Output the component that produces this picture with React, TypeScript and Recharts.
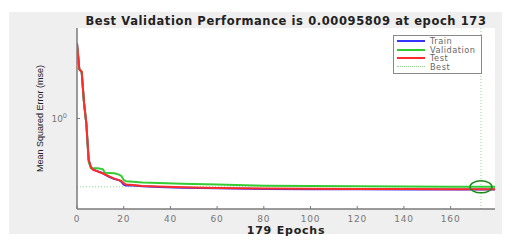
import React from "react";
import {
  LineChart,
  Line,
  XAxis,
  YAxis,
  CartesianGrid,
  ReferenceLine,
  ReferenceDot,
  Label,
} from "recharts";

// values (log scale, so most are rough)
const epochs = [0, 1, 2, 3, 4, 5, 6, 7, 9, 10, 11, 12, 14, 16, 18, 19, 20, 21, 24, 28, 35, 45, 60, 80, 100, 120, 140, 160, 173, 179];
const trainMse = [2100, 150, 117, 5, 0.6, 0.015, 0.0068, 0.0055, 0.0046, 0.0042, 0.0038, 0.0033, 0.0026, 0.0021, 0.0019, 0.0016, 0.0012, 0.0011, 0.00108, 0.00102, 0.00095, 0.00088, 0.00082, 0.00076, 0.00075, 0.00074, 0.00073, 0.00073, 0.00072, 0.00072];
const validationMse = [2100, 150, 117, 5, 0.6, 0.012, 0.0064, 0.0064, 0.0063, 0.006, 0.0058, 0.004, 0.0039, 0.0038, 0.0033, 0.0029, 0.0019, 0.0017, 0.0016, 0.0015, 0.0014, 0.0013, 0.0012, 0.00107, 0.00104, 0.00101, 0.00099, 0.00097, 0.00096, 0.00097];
const testMse = [2100, 150, 117, 5, 0.6, 0.015, 0.0068, 0.0054, 0.0045, 0.0041, 0.0038, 0.0034, 0.0027, 0.0022, 0.0019, 0.0017, 0.0014, 0.0012, 0.00115, 0.00105, 0.00098, 0.00092, 0.00085, 0.0008, 0.00079, 0.00077, 0.00076, 0.00075, 0.00074, 0.00074];

const xTicks = [0, 20, 40, 60, 80, 100, 120, 140, 160];
const yTicks = [1];
const bestEpoch = 173;
const bestValue = 0.00095809;
const totalEpochs = 179;

const legendItems = [
  { name: "Train", color: "#3535ff", dotted: false },
  { name: "Validation", color: "#33cc33", dotted: false },
  { name: "Test", color: "#ff2b2b", dotted: false },
  { name: "Best", color: "#8fd88f", dotted: true },
];

const data = epochs.map((epoch, i) => ({
  epoch,
  train: trainMse[i],
  validation: validationMse[i],
  test: testMse[i],
}));

const tickFont = "'DejaVu Sans', Arial, sans-serif";
const axisColor = "#7a7a7a";

function XTick({ x, y, payload }: any) {
  // y is axis + 6 (tickSize) + 2 (margin)
  const axisY = y - 8;
  return (
    <g>
      <line x1={x} x2={x} y1={axisY} y2={axisY - 3} stroke={axisColor} />
      <text x={x} y={y} dy={5} textAnchor="middle" fontSize={9} fill="#777" fontFamily={tickFont} letterSpacing={0.8}>
        {payload.value}
      </text>
    </g>
  );
}

function YTick({ x, y, payload }: any) {
  const axisX = x + 10;
  const exp = Math.round(Math.log10(payload.value));
  return (
    <g>
      <line x1={axisX} x2={axisX + 3} y1={y} y2={y} stroke={axisColor} />
      <text x={x} y={y} dy={3} textAnchor="end" fontSize={9} fill="#777" fontFamily={tickFont}>
        10<tspan dy={-4} fontSize={6.5}>{exp}</tspan>
      </text>
    </g>
  );
}

function BestRing({ cx, cy }: any) {
  return <ellipse cx={cx} cy={cy} rx={11} ry={6} fill="none" stroke="#1a8a1a" strokeWidth={1.5} />;
}

function LegendBox() {
  return (
    <div
      style={{
        position: "absolute",
        left: 393,
        top: 35,
        width: 81,
        height: 35,
        border: "1px solid #888",
        background: "#fff",
        padding: "1px 3px",
        fontFamily: tickFont,
        fontSize: 8.2,
        letterSpacing: 0.5,
        color: "#666",
      }}
    >
      {legendItems.map((it) => (
        <div key={it.name} style={{ display: "flex", alignItems: "center", height: 8.5, lineHeight: "8.5px" }}>
          <span
            style={{
              display: "inline-block",
              width: 28,
              marginRight: 5,
              borderTop: it.dotted ? `1px dotted ${it.color}` : `2px solid ${it.color}`,
            }}
          />
          {it.name}
        </div>
      ))}
    </div>
  );
}

export default function App() {
  return (
    <div style={{ position: "absolute", left: 0, top: 0, width: 512, height: 247, background: "#fff" }}>
      <div style={{ position: "absolute", left: 9, top: 12, width: 493, height: 222, background: "#efefef" }} />
      <div
        style={{
          position: "absolute",
          left: 77,
          width: 418,
          top: 14,
          textAlign: "center",
          fontFamily: tickFont,
          fontWeight: "bold",
          fontSize: 11.5,
          letterSpacing: 0.6,
          color: "#222",
          whiteSpace: "nowrap",
        }}
      >
        {`Best Validation Performance is ${bestValue} at epoch ${bestEpoch}`}
      </div>
      <div style={{ position: "absolute", left: 0, top: 0 }}>
        <LineChart width={512} height={247} data={data} margin={{ top: 28, right: 17, left: 27, bottom: 8 }}>
          <CartesianGrid horizontal={false} vertical={false} fill="#fff" stroke="none" />
          <XAxis
            dataKey="epoch"
            type="number"
            domain={[0, totalEpochs]}
            ticks={xTicks}
            height={30}
            axisLine={{ stroke: axisColor, strokeWidth: 1.5 }}
            tickLine={false}
            tick={<XTick />}
            allowDataOverflow
          >
            <Label
              value={`${totalEpochs} Epochs`}
              position="insideBottom"
              offset={5}
              style={{ fontFamily: tickFont, fontWeight: "bold", fontSize: 11, fill: "#222", letterSpacing: 0.8 }}
            />
          </XAxis>
          <YAxis
            scale="log"
            domain={[1e-4, 1e4]}
            ticks={yTicks}
            width={50}
            tickMargin={4}
            axisLine={{ stroke: axisColor, strokeWidth: 1.5 }}
            tickLine={false}
            tick={<YTick />}
            allowDataOverflow
          >
            <Label
              value="Mean Squared Error  (mse)"
              angle={-90}
              position="insideLeft"
              offset={13}
              style={{ textAnchor: "middle", fontFamily: "Arial, 'Liberation Sans', sans-serif", fontSize: 9, fill: "#222" }}
            />
          </YAxis>
          <ReferenceLine x={bestEpoch} stroke="#8fd88f" strokeDasharray="1 2" />
          <ReferenceLine y={bestValue} stroke="#8fd88f" strokeDasharray="1 2" />
          <Line type="linear" dataKey="train" stroke="#3535ff" strokeWidth={2} dot={false} isAnimationActive={false} />
          <Line type="linear" dataKey="validation" stroke="#33cc33" strokeWidth={2} dot={false} isAnimationActive={false} />
          <Line type="linear" dataKey="test" stroke="#ff2b2b" strokeWidth={2} dot={false} isAnimationActive={false} />
          <ReferenceDot x={bestEpoch} y={bestValue} shape={<BestRing />} />
        </LineChart>
      </div>
      <LegendBox />
    </div>
  );
}
